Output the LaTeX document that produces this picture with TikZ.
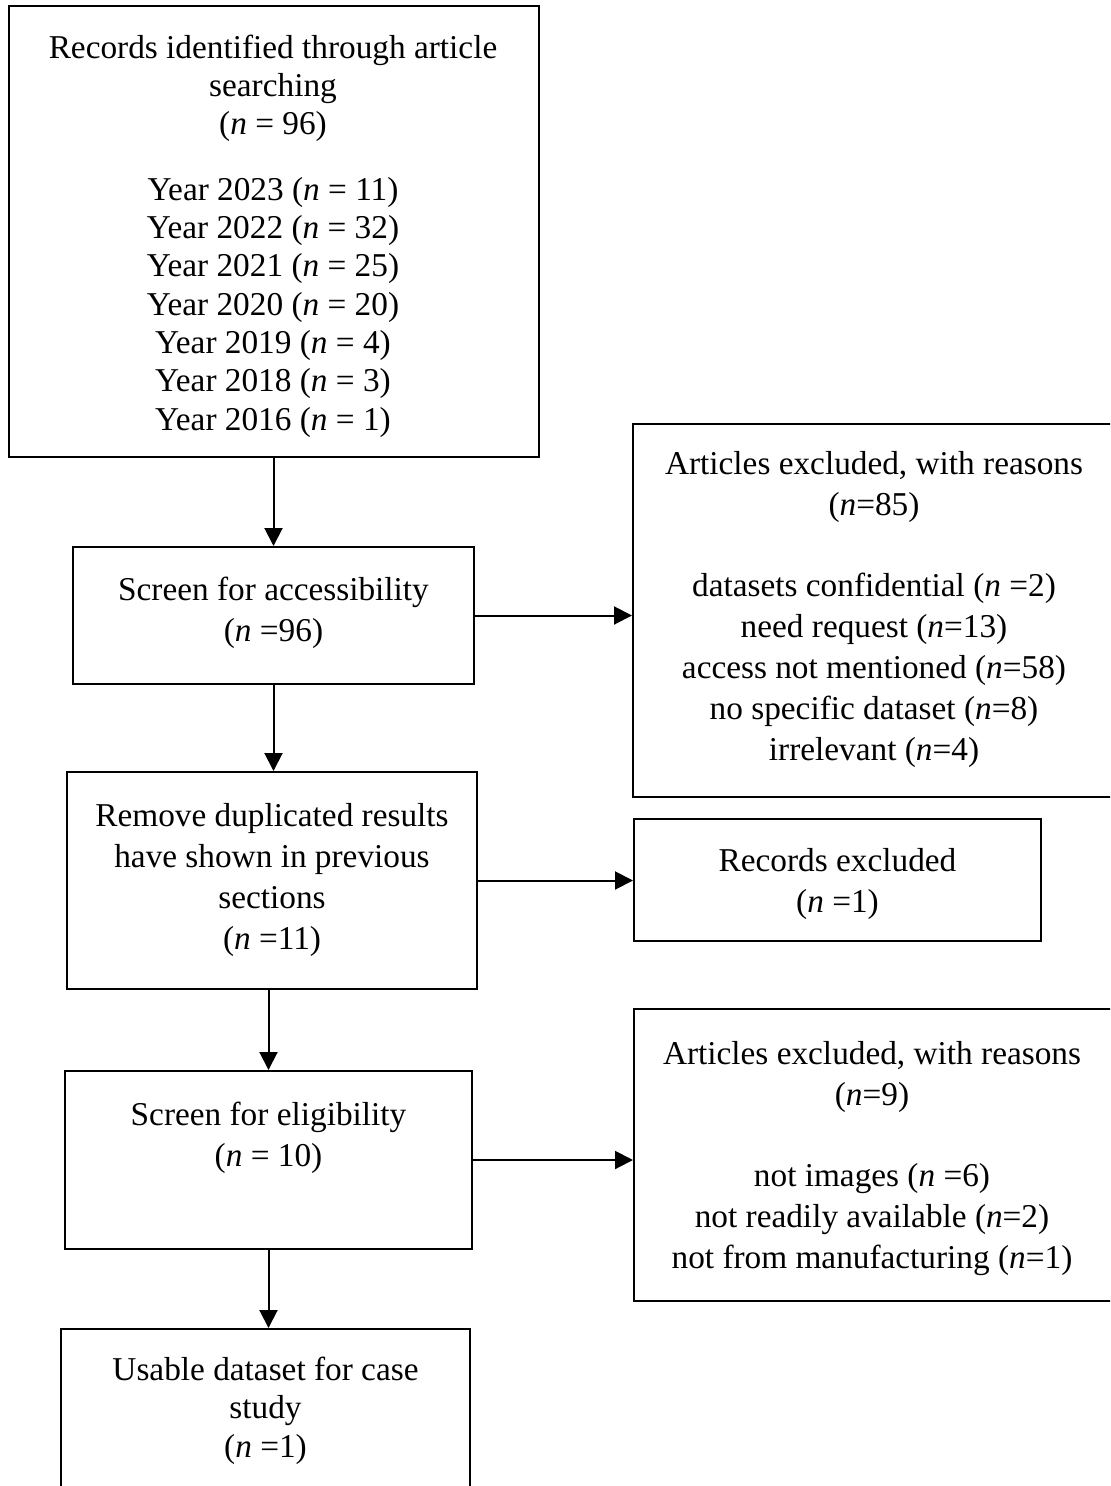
\documentclass[tikz,border=0pt]{standalone}
\usepackage{fontspec}
\setmainfont{Liberation Serif}
\usetikzlibrary{arrows.meta,fit}
\begin{document}
\begin{tikzpicture}[x=0.5pt,y=-0.5pt,
  box/.style={draw=black, line width=1pt, inner sep=0pt, fit={#1}},
  % text nodes are placed by the baseline of their last line
  txt/.style={anchor=base, align=center, inner sep=0pt,
    font=\fontsize{16.65pt}{20.5pt}\selectfont},
  tight/.style={font=\fontsize{16.65pt}{19.15pt}\selectfont},
  arr/.style={draw=black, line width=1pt, -{Triangle[width=9pt,length=9pt]}}]

\path[use as bounding box, clip] (0,0) rectangle (1110,1486);

% main column
\node[box={(9,6) (539,457)}] (b1) {};
\node[txt, tight] (t1) at (273,430) {Records identified through article\\searching\\(\textit{n} = 96)\\[13.5pt]%
Year 2023 (\textit{n} = 11)\\Year 2022 (\textit{n} = 32)\\Year 2021 (\textit{n} = 25)\\Year 2020 (\textit{n} = 20)\\%
Year 2019 (\textit{n} = 4)\\Year 2018 (\textit{n} = 3)\\Year 2016 (\textit{n} = 1)};

\node[box={(73,547) (474,684)}] (b2) {};
\node[txt] (t2) at (273.5,641) {Screen for accessibility\\(\textit{n} =96)};

\node[box={(67,772) (477,989)}] (b3) {};
\node[txt] (t3) at (272,949) {Remove duplicated results\\have shown in previous\\sections\\(\textit{n} =11)};

\node[box={(65,1071) (472,1249)}] (b4) {};
\node[txt] (t4) at (268.5,1166) {Screen for eligibility\\(\textit{n} = 10)};

\node[box={(61,1329) (470,1500)}] (b5) {};
\node[txt, tight] (t5) at (265.5,1457) {Usable dataset for case\\study\\(\textit{n} =1)};

% exclusion column
\node[box={(633,424) (1115,797)}] (r1) {};
\node[txt] (s1) at (874,760) {Articles excluded, with reasons\\(\textit{n}=85)\\[20pt]%
datasets confidential (\textit{n} =2)\\need request (\textit{n}=13)\\access not mentioned (\textit{n}=58)\\%
no specific dataset (\textit{n}=8)\\irrelevant (\textit{n}=4)};

\node[box={(634,819) (1041,941)}] (r2) {};
\node[txt] (s2) at (837.5,912) {Records excluded\\(\textit{n} =1)};

\node[box={(634,1009) (1113,1301)}] (r3) {};
\node[txt] (s3) at (872,1268) {Articles excluded, with reasons\\(\textit{n}=9)\\[20pt]%
not images (\textit{n} =6)\\not readily available (\textit{n}=2)\\not from manufacturing (\textit{n}=1)};

% connectors
\draw[arr] (b1.south -| b2.north) -- (b2.north);
\draw[arr] (b2.south) -- (b2.south |- b3.north);
\draw[arr] (b3.south -| b4.north) -- (b4.north);
\draw[arr] (b4.south) -- (b4.south |- b5.north);
\draw[arr] (b2.east) -- (b2.east -| r1.west);
\draw[arr] (b3.east) -- (b3.east -| r2.west);
\draw[arr] (b4.east) -- (b4.east -| r3.west);
\end{tikzpicture}
\end{document}
